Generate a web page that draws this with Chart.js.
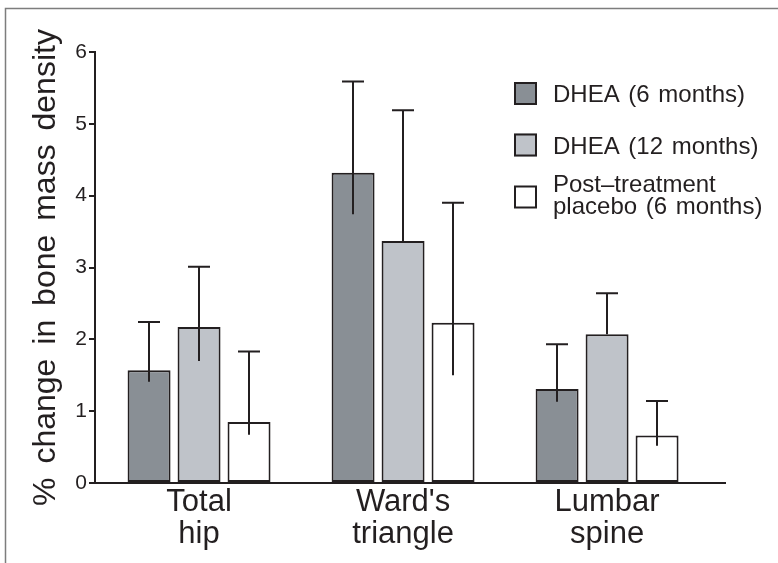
<!DOCTYPE html>
<html><head><meta charset="utf-8">
<script src="https://cdn.jsdelivr.net/npm/chart.js@4.4.1/dist/chart.umd.min.js"></script>
<style>html,body{margin:0;padding:0;background:#fff;}</style>
</head><body>
<canvas id="c" width="778" height="563"></canvas>
<script>
const categories = [['Total', 'hip'], ["Ward's", 'triangle'], ['Lumbar', 'spine']];
const seriesNames = ['DHEA (6 months)', 'DHEA (12 months)', 'Post–treatment placebo (6 months)'];
const legendLines = [['DHEA (6 months)'], ['DHEA (12 months)'], ['Post–treatment', 'placebo (6 months)']];
const dhea6 = [1.57, 4.32, 1.31];
const dhea6Upper = [2.24, 5.59, 1.93];
const dhea6Lower = [1.41, 3.74, 1.13];
const dhea12 = [2.17, 3.37, 2.07];
const dhea12Upper = [3.01, 5.19, 2.64];
const dhea12Lower = [1.70, 3.37, 2.07];
const placebo = [0.85, 2.23, 0.66];
const placeboUpper = [1.83, 3.90, 1.14];
const placeboLower = [0.67, 1.50, 0.52];
const yTicks = [0, 1, 2, 3, 4, 5, 6];

const INK = '#231f20';
const FONT = '"Liberation Sans", Arial, sans-serif';
const fills = ['#898f95', '#bfc3c9', '#ffffff'];

const framePlugin = {
  id: 'frame',
  beforeDraw(chart) {
    const ctx = chart.ctx;
    ctx.save();
    ctx.strokeStyle = '#7d7d7d';
    ctx.lineWidth = 1.5;
    ctx.beginPath();
    ctx.moveTo(5.5, chart.height);
    ctx.lineTo(5.5, 8.5);
    ctx.lineTo(chart.width, 8.5);
    ctx.stroke();
    ctx.restore();
    ctx.wordSpacing = '5px';
  }
};

const errorPlugin = {
  id: 'errbars',
  afterDatasetsDraw(chart) {
    const ctx = chart.ctx;
    const y = chart.scales.y;
    ctx.save();
    ctx.strokeStyle = INK;
    ctx.lineWidth = 2;
    chart.data.datasets.forEach((ds, i) => {
      const meta = chart.getDatasetMeta(i);
      meta.data.forEach((bar, j) => {
        const x = Math.round(bar.x);
        const yt = y.getPixelForValue(ds.upper[j]);
        const yl = y.getPixelForValue(ds.lower[j]);
        ctx.beginPath();
        ctx.moveTo(x, yl);
        ctx.lineTo(x, yt);
        ctx.moveTo(x - 11, yt);
        ctx.lineTo(x + 11, yt);
        ctx.stroke();
      });
    });
    ctx.restore();
  }
};

const legendPlugin = {
  id: 'customLegend',
  afterDraw(chart, args, opts) {
    const ctx = chart.ctx;
    ctx.save();
    ctx.wordSpacing = '2px';
    ctx.font = '24px ' + FONT;
    ctx.fillStyle = INK;
    ctx.textBaseline = 'alphabetic';
    chart.data.datasets.forEach((ds, i) => {
      const cy = opts.rows[i];
      ctx.fillStyle = ds.backgroundColor;
      ctx.fillRect(opts.boxX, cy - opts.box / 2, opts.box, opts.box);
      ctx.strokeStyle = INK;
      ctx.lineWidth = 2;
      ctx.strokeRect(opts.boxX + 1, cy - opts.box / 2 + 1, opts.box - 2, opts.box - 2);
      ctx.fillStyle = INK;
      const lines = legendLines[i];
      const n = lines.length;
      lines.forEach((t, k) => {
        const base = cy + 8.5 - (n - 1) * 13.5 + k * 22;
        ctx.fillText(t, opts.textX, base);
      });
    });
    ctx.restore();
  }
};

new Chart(document.getElementById('c'), {
  type: 'bar',
  data: {
    labels: categories,
    datasets: [
      { label: seriesNames[0], data: dhea6, upper: dhea6Upper, lower: dhea6Lower, backgroundColor: fills[0] },
      { label: seriesNames[1], data: dhea12, upper: dhea12Upper, lower: dhea12Lower, backgroundColor: fills[1] },
      { label: seriesNames[2], data: placebo, upper: placeboUpper, lower: placeboLower, backgroundColor: fills[2] }
    ].map(d => Object.assign(d, { borderColor: INK, borderWidth: 2, borderSkipped: false, categoryPercentage: 0.735, barPercentage: 0.86 }))
  },
  plugins: [framePlugin, errorPlugin, legendPlugin],
  options: {
    responsive: false,
    animation: false,
    devicePixelRatio: 1,
    layout: { padding: { left: 0, right: 53, top: 52, bottom: 0 } },
    plugins: {
      legend: { display: false },
      tooltip: { enabled: false },
      customLegend: { boxX: 514, box: 23, textX: 553, rows: [93.5, 145, 197] }
    },
    scales: {
      x: {
        type: 'category',
        offset: true,
        grid: { display: true, drawOnChartArea: false, drawTicks: false, tickLength: 0 },
        border: { display: true, color: INK, width: 2 },
        ticks: { color: INK, font: { family: FONT, size: 31, lineHeight: 1.04 }, padding: 3, maxRotation: 0, autoSkip: false },
        afterFit: s => { s.height = 80; },
        afterBuildTicks: s => { s._valueRange = 3.088; s._startValue = -0.51; }
      },
      y: {
        min: 0, max: 6,
        grid: { drawOnChartArea: false, drawTicks: true, tickLength: 6, color: INK, lineWidth: 2 },
        border: { display: true, color: INK, width: 2 },
        ticks: { stepSize: 1, color: INK, font: { family: FONT, size: 21 }, padding: 2 },
        title: { display: true, text: '% change in bone mass density', color: INK, font: { family: FONT, size: 32, lineHeight: 1.2 }, padding: { top: 27, bottom: 0 } },
        afterFit: s => { s.width = 95; },
        afterBuildTicks: s => { s.ticks = yTicks.map(v => ({ value: v })); }
      }
    }
  }
});
</script>
</body></html>
